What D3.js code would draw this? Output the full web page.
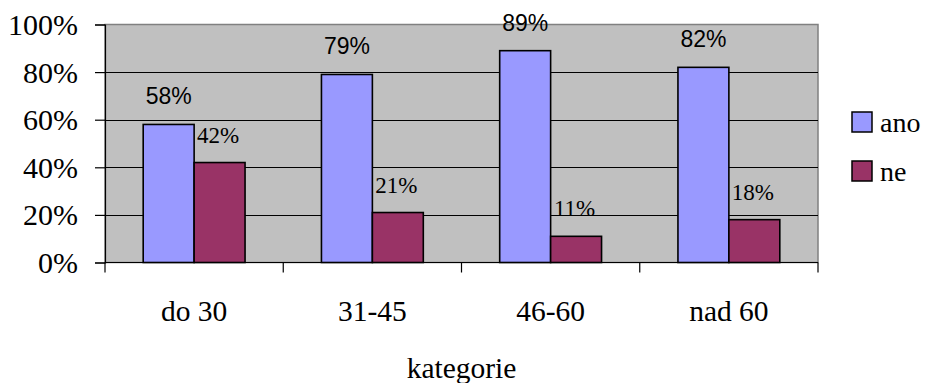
<!DOCTYPE html>
<html>
<head>
<meta charset="utf-8">
<script src="https://cdn.jsdelivr.net/npm/d3@7"></script>
<style>
  html, body { margin: 0; padding: 0; background: #fff; }
  svg { display: block; }
  .serif { font-family: "Liberation Serif", "Times New Roman", Times, serif; }
  .sans { font-family: "Liberation Sans", Arial, Helvetica, sans-serif; }
</style>
</head>
<body>
<svg id="chart" width="927" height="383"></svg>
<script>
// Age categories and the share of "ano" / "ne" answers in each (percent)
const categories = ["do 30", "31-45", "46-60", "nad 60"];
const seriesNames = ["ano", "ne"];
const anoValues = [58, 79, 89, 82];
const neValues = [42, 21, 11, 18];
const yTicks = [0, 20, 40, 60, 80, 100];
const axisTitle = "kategorie";

const colors = { ano: "#9999FF", ne: "#993366" };
const values = { ano: anoValues, ne: neValues };

const svg = d3.select("#chart");
const plot = { left: 105, right: 818, top: 24.5, bottom: 262.5 };

const x0 = d3.scaleBand().domain(categories).range([plot.left, plot.right]).padding(0);
const x1 = d3.scaleBand().domain(seriesNames).range([0, x0.bandwidth()])
  .paddingInner(0).paddingOuter(0.75);
const y = d3.scaleLinear().domain([0, 100]).range([plot.bottom, plot.top]);

// plot background
svg.append("rect")
  .attr("x", plot.left).attr("y", plot.top)
  .attr("width", plot.right - plot.left).attr("height", plot.bottom - plot.top)
  .attr("fill", "#C0C0C0").attr("stroke", "#808080").attr("stroke-width", 1.5);

// horizontal gridlines
svg.append("g").selectAll("line")
  .data(yTicks.filter(t => t > 0 && t < 100))
  .join("line")
  .attr("x1", plot.left).attr("x2", plot.right)
  .attr("y1", d => Math.round(y(d)) + 0.5).attr("y2", d => Math.round(y(d)) + 0.5)
  .attr("stroke", "#000").attr("stroke-width", 1);

// bars
const groups = svg.append("g").selectAll("g")
  .data(categories)
  .join("g")
  .attr("transform", d => `translate(${x0(d)},0)`);

groups.selectAll("rect")
  .data((c, i) => seriesNames.map(s => ({ s, v: values[s][i] })))
  .join("rect")
  .attr("x", d => x1(d.s))
  .attr("y", d => y(d.v))
  .attr("width", x1.bandwidth())
  .attr("height", d => y(0) - y(d.v))
  .attr("fill", d => colors[d.s])
  .attr("stroke", "#000").attr("stroke-width", 1.6);

// value labels: sans-serif above "ano" bars, serif above "ne" bars
groups.selectAll("text")
  .data((c, i) => seriesNames.map(s => ({ s, v: values[s][i] })))
  .join("text")
  .attr("class", d => d.s === "ano" ? "sans" : "serif")
  .attr("x", d => x1(d.s) + x1.bandwidth() / 2 + (d.s === "ne" ? -1.5 : 0))
  .attr("y", d => y(d.v) - 20)
  .attr("text-anchor", "middle")
  .style("font-size", d => (d.s === "ano" ? 23 : 23) + "px")
  .attr("fill", "#000")
  .text(d => d.v + "%");

// y axis
const yAxis = d3.axisLeft(y).tickValues(yTicks).tickFormat(d => d + "%").tickSize(10).tickPadding(17);
const gy = svg.append("g").attr("transform", `translate(${plot.left},0)`).call(yAxis)
  .attr("font-family", null).attr("font-size", null);
gy.select(".domain").attr("stroke", "#000").attr("stroke-width", 1.2);
gy.selectAll(".tick line").attr("stroke", "#000").attr("stroke-width", 1.2);
gy.selectAll(".tick text")
  .attr("class", "serif")
  .style("font-size", "30px").attr("fill", "#000").attr("dy", "0.33em");

// x axis: ticks at category boundaries
const gx = svg.append("g");
gx.append("line")
  .attr("x1", plot.left).attr("x2", plot.right)
  .attr("y1", plot.bottom).attr("y2", plot.bottom)
  .attr("stroke", "#000").attr("stroke-width", 1.2);
const bounds = categories.map(c => x0(c)).concat([x0(categories[categories.length - 1]) + x0.bandwidth()]);
gx.selectAll("line.tick")
  .data(bounds)
  .join("line").attr("class", "tick")
  .attr("x1", d => d).attr("x2", d => d)
  .attr("y1", plot.bottom).attr("y2", plot.bottom + 10)
  .attr("stroke", "#000").attr("stroke-width", 1.2);
gx.selectAll("text")
  .data(categories)
  .join("text")
  .attr("class", "serif")
  .attr("x", d => x0(d) + x0.bandwidth() / 2)
  .attr("y", 321)
  .attr("text-anchor", "middle")
  .style("font-size", "29.5px").attr("fill", "#000")
  .text(d => d);

// axis title
svg.append("text")
  .attr("class", "serif")
  .attr("x", (plot.left + plot.right) / 2)
  .attr("y", 378)
  .attr("text-anchor", "middle")
  .style("font-size", "29.5px").attr("fill", "#000")
  .text(axisTitle);

// legend
const legend = svg.append("g").selectAll("g")
  .data(seriesNames)
  .join("g")
  .attr("transform", (d, i) => `translate(852,${112 + i * 49})`);
legend.append("rect")
  .attr("width", 20).attr("height", 20)
  .attr("fill", d => colors[d]).attr("stroke", "#000").attr("stroke-width", 1.5);
legend.append("text")
  .attr("class", "serif")
  .attr("x", 28).attr("y", 19.5)
  .style("font-size", "28px").attr("fill", "#000")
  .text(d => d);
</script>
</body>
</html>
